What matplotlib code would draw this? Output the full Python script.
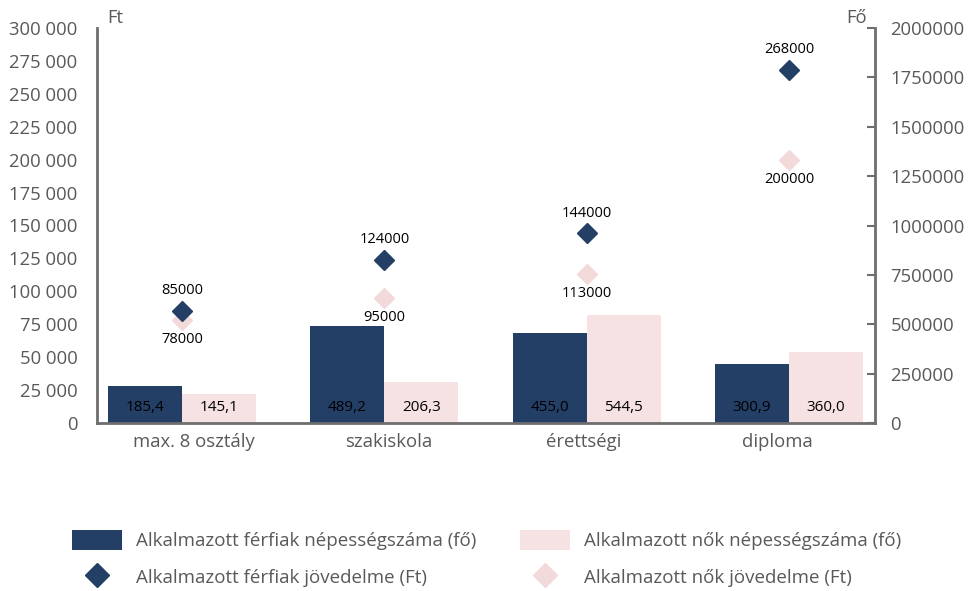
import matplotlib
matplotlib.use("Agg")
import matplotlib.pyplot as plt
from matplotlib.patches import Patch
from matplotlib.lines import Line2D
from matplotlib.ticker import FuncFormatter, MultipleLocator
import numpy as np

plt.rcParams['font.family'] = ['Open Sans', 'DejaVu Sans']

categories = ["max. 8 osztály", "szakiskola", "érettségi", "diploma"]
men_pop = [185.4, 489.2, 455.0, 300.9]      # ezer fő
women_pop = [145.1, 206.3, 544.5, 360.0]    # ezer fő
men_income = [85000, 124000, 144000, 268000]
women_income = [78000, 95000, 113000, 200000]

legend_labels = ["Alkalmazott férfiak népességszáma (fő)",
                 "Alkalmazott nők népességszáma (fő)",
                 "Alkalmazott férfiak jövedelme (Ft)",
                 "Alkalmazott nők jövedelme (Ft)"]

NAVY = "#243f66"
PINK = "#f6e2e2"
PINK_D = "#f3dada"
GREY = "#595959"
SPINE = "#6e6e6e"

fig = plt.figure(figsize=(9.74, 5.91), dpi=100)
ax = fig.add_axes([97/974, 1-423/591, (875-97)/974, (423-28)/591])
ax2 = ax.twinx()

XMIN, XMAX = -0.42, 3.425
x = np.arange(len(categories))
w = 0.366
ax2.bar(x - w/2, np.array(men_pop)*1000, width=w, color=NAVY, zorder=2)
ax2.bar(x + w/2, np.array(women_pop)*1000, width=w, color=PINK, zorder=2)
for xi, v in zip(x, men_pop):
    ax2.annotate(f"{v:.1f}".replace('.', ','), (xi - w/2, 0), xytext=(0, 11.5),
                 textcoords='offset points', ha='center', va='center',
                 fontsize=11, color='black')
for xi, v in zip(x, women_pop):
    ax2.annotate(f"{v:.1f}".replace('.', ','), (xi + w/2, 0), xytext=(0, 11.5),
                 textcoords='offset points', ha='center', va='center',
                 fontsize=11, color='black')

ax.set_zorder(ax2.get_zorder() + 1)
ax.patch.set_visible(False)
ax.plot(x, men_income, linestyle='none', marker='D', markersize=10, color=NAVY, zorder=5)
ax.plot(x, women_income, linestyle='none', marker='D', markersize=10, color=PINK_D, zorder=4)
for xi, v in zip(x, men_income):
    ax.annotate(f"{v}", (xi, v), xytext=(0, 14.5), textcoords='offset points',
                ha='center', va='center', fontsize=10.5, color='black')
for xi, v in zip(x, women_income):
    ax.annotate(f"{v}", (xi, v), xytext=(0, -14), textcoords='offset points',
                ha='center', va='center', fontsize=10.5, color='black')

ax.set_xlim(XMIN, XMAX)
ax.set_ylim(0, 300000)
ax2.set_ylim(0, 2000000)
ax.yaxis.set_major_locator(MultipleLocator(25000))
ax2.yaxis.set_major_locator(MultipleLocator(250000))
ax.yaxis.set_major_formatter(FuncFormatter(lambda v, p: f"{int(v):,}".replace(',', ' ')))
ax2.yaxis.set_major_formatter(FuncFormatter(lambda v, p: f"{int(v)}"))

# category labels sit in equal slots across the plot width
slot = (XMAX - XMIN) / len(categories)
ax.set_xticks(XMIN + (x + 0.5) * slot)
ax.set_xticklabels(categories)
ax.tick_params(axis='x', length=0, pad=7, labelsize=13.3, labelcolor=GREY)
ax.tick_params(axis='y', length=0, pad=14, labelsize=13.3, labelcolor=GREY)
ax2.tick_params(axis='y', direction='in', length=6, width=1.5, color=SPINE,
                pad=11, labelsize=13.3, labelcolor=GREY)

for a in (ax, ax2):
    a.spines['top'].set_visible(False)
ax.spines['right'].set_visible(False)
ax2.spines['left'].set_visible(False)
ax2.spines['bottom'].set_visible(False)
ax.spines['left'].set_color(SPINE)
ax.spines['left'].set_linewidth(2)
ax.spines['bottom'].set_color(SPINE)
ax.spines['bottom'].set_linewidth(2)
ax2.spines['right'].set_color(SPINE)
ax2.spines['right'].set_linewidth(2)

fig.text(107/974, 1-18/591, "Ft", fontsize=13.3, color=GREY, va='center', ha='left')
fig.text(846/974, 1-18/591, "Fő", fontsize=13.3, color=GREY, va='center', ha='left')

handles = [Patch(facecolor=NAVY, edgecolor='none'),
           Line2D([], [], linestyle='none', marker='D', markersize=12, color=NAVY),
           Patch(facecolor=PINK, edgecolor='none'),
           Line2D([], [], linestyle='none', marker='D', markersize=12, color=PINK_D)]
labels = [legend_labels[0], legend_labels[2], legend_labels[1], legend_labels[3]]
fig.legend(handles, labels, ncol=2, frameon=False, loc='upper left',
           bbox_to_anchor=(72/974, 1-530/591), borderpad=0, borderaxespad=0,
           handlelength=2.67, handleheight=1.23, handletextpad=0.75,
           columnspacing=2.3, labelspacing=0.88,
           prop={'size': 13.5}, labelcolor=GREY)

fig.savefig("out.png", dpi=100)
